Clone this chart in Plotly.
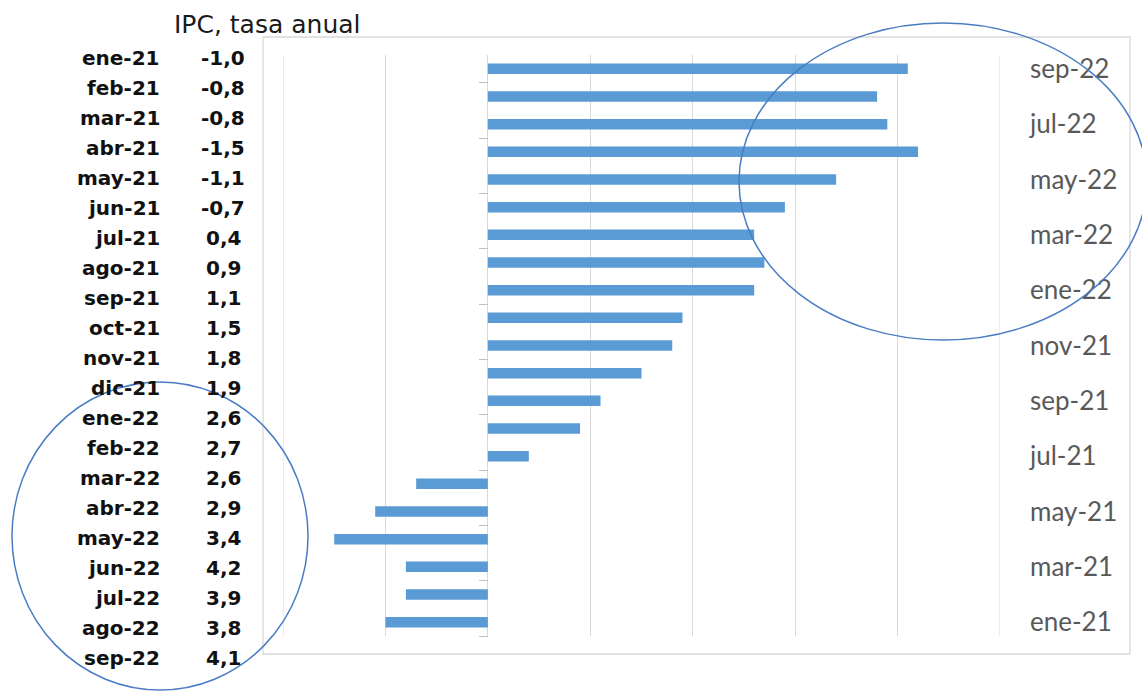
import plotly.graph_objects as go

# ---- data ----
months = ["ene-21", "feb-21", "mar-21", "abr-21", "may-21", "jun-21", "jul-21",
          "ago-21", "sep-21", "oct-21", "nov-21", "dic-21", "ene-22", "feb-22",
          "mar-22", "abr-22", "may-22", "jun-22", "jul-22", "ago-22", "sep-22"]
ipc_values = [-1.0, -0.8, -0.8, -1.5, -1.1, -0.7, 0.4, 0.9, 1.1, 1.5, 1.8, 1.9,
              2.6, 2.7, 2.6, 2.9, 3.4, 4.2, 3.9, 3.8, 4.1]
title_text = "IPC, tasa anual"
x_range = [-2, 5]

# ---- layout geometry (pixels) ----
W, H = 1142, 691
L, R, T, B = 283, 1000, 55, 636


def xp(px):
    return (px - L) / (R - L)


def yp(py):
    return (B - py) / (B - T)


GRID = "#D9D9D9"
BLUE = "#5B9BD5"
ELL = "#4A7CC4"

fig = go.Figure()
fig.add_trace(go.Bar(
    y=months, x=ipc_values, orientation="h",
    marker=dict(color=BLUE, line=dict(width=0)),
    hoverinfo="x+y", showlegend=False,
))
# empty helper trace so that the secondary (tick-mark) axis is rendered
fig.add_trace(go.Scatter(x=[None], y=[None], yaxis="y2", mode="lines",
                         showlegend=False, hoverinfo="skip"))

n = len(months)
fig.update_layout(
    width=W, height=H, autosize=False,
    margin=dict(l=L, r=W - R, t=T, b=H - B, pad=0),
    paper_bgcolor="white", plot_bgcolor="white",
    bargap=0.62,
    xaxis=dict(range=x_range, dtick=1, tick0=0, showgrid=True, gridcolor=GRID,
               gridwidth=1, zeroline=True, zerolinecolor=GRID, zerolinewidth=1,
               showticklabels=False, ticks="", showline=False, fixedrange=True),
    yaxis=dict(type="category", categoryorder="array", categoryarray=months,
               range=[-0.5, n - 0.5], side="right",
               tickvals=months[::2], ticktext=months[::2], ticks="",
               ticklabelstandoff=29, showgrid=False, zeroline=False, showline=False,
               tickfont=dict(family="Lato", size=26, color="#595959"),
               fixedrange=True),
    yaxis2=dict(overlaying="y", anchor="free",
                position=(0 - x_range[0]) / (x_range[1] - x_range[0]),
                side="left", range=[-0.5, n - 0.5],
                tickmode="array",
                tickvals=[k - 0.5 for k in range(0, n, 2)],
                ticks="outside", ticklen=9, tickcolor="#BFBFBF", tickwidth=1,
                showticklabels=False, showgrid=False, zeroline=False, showline=False,
                fixedrange=True),
)

# gridlines at the two ends of the value axis
for xv in x_range:
    fig.add_shape(type="line", xref="x", yref="paper", x0=xv, x1=xv, y0=0, y1=1,
                  line=dict(color=GRID, width=1), layer="below")

# chart-area border
fig.add_shape(type="rect", xref="paper", yref="paper",
              x0=xp(263), x1=xp(1130), y0=yp(654), y1=yp(37),
              line=dict(color=GRID, width=1.3), layer="below")

# title
fig.add_annotation(text=title_text, xref="paper", yref="paper",
                   x=xp(172), y=yp(25), xanchor="left", yanchor="middle",
                   showarrow=False,
                   font=dict(family="DejaVu Sans", size=25, color="#1a1a1a"))

# left table (top row = first month)
for i, (m, v) in enumerate(zip(months, ipc_values)):
    ypix = 58 + 30 * i
    fig.add_annotation(text=f"<b>{m}</b>", xref="paper", yref="paper",
                       x=xp(162), y=yp(ypix), xanchor="right", yanchor="middle",
                       showarrow=False,
                       font=dict(family="DejaVu Sans", size=20, color="#111111"))
    fig.add_annotation(text=f"<b>{v:.1f}</b>".replace(".", ","), xref="paper",
                       yref="paper", x=xp(223), y=yp(ypix), xanchor="center",
                       yanchor="middle", showarrow=False,
                       font=dict(family="DejaVu Sans", size=20, color="#111111"))

# highlight ellipses
fig.add_shape(type="circle", xref="paper", yref="paper",
              x0=xp(739), x1=xp(1147), y0=yp(340), y1=yp(23),
              line=dict(color=ELL, width=1.5), layer="above")
fig.add_shape(type="circle", xref="paper", yref="paper",
              x0=xp(12), x1=xp(308), y0=yp(690), y1=yp(382),
              line=dict(color=ELL, width=1.5), layer="above")

fig.write_html("out.html")
